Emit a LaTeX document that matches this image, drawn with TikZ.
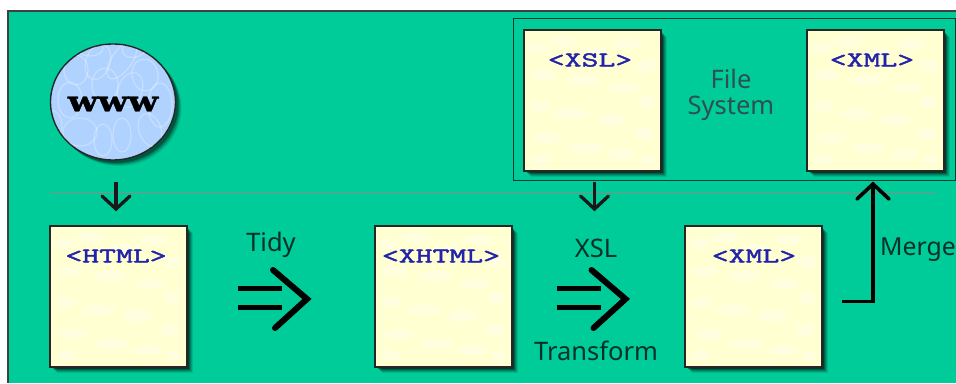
\documentclass[tikz,border=0pt]{standalone}
\usepackage{fontspec}
\setmainfont{Noto Sans}
\newfontfamily\tagfont[FakeStretch=1.56,FakeBold=2.2]{Latin Modern Mono}
\newfontfamily\wwwfont[FakeStretch=1.25,FakeBold=1.5]{DejaVu Serif}
\usetikzlibrary{calc,shapes.geometric}
\definecolor{panelgreen}{HTML}{00CC99}
\definecolor{paper}{HTML}{FFFFD2}
\definecolor{paperlight}{HTML}{FFFFDF}
\definecolor{globe}{HTML}{B0D2FF}
\definecolor{tagblue}{HTML}{2222AA}
\definecolor{rulegrey}{HTML}{868E8A}
\definecolor{fsgrey}{HTML}{2F4F50}
\definecolor{ink}{HTML}{033028}
\tikzset{
  x=1pt,y=-1pt,
  docbox/.style={draw=black!85,line width=1.4pt,fill=paper,minimum width=135.5pt,minimum height=140pt,inner sep=0pt,anchor=north west},
  taglabel/.style={font=\tagfont\fontsize{21}{21}\selectfont,text=tagblue,inner sep=0pt,anchor=center},
  caption/.style={font=\fontsize{25.5}{29}\selectfont,text=ink,inner sep=0pt,align=center},
  fscaption/.style={font=\fontsize{25.5}{26}\selectfont,text=fsgrey,inner sep=0pt,align=center},
  smallarrow/.style={line width=3.3pt,draw=black!90},
  bigstroke/.style={line width=4.6pt,draw=black,line cap=butt},
  chevron/.style={line width=6pt,draw=black,line join=miter,line cap=round},
}
\newcommand{\softshadow}[4]{%
  \foreach \o/\a in {7/.10,6/.14,5/.18,4/.25,3/.35,2/.45}{
    \fill[black,opacity=\a] (#1+\o,#2+\o) rectangle (#3+\o,#4+\o);
  }}
\newcommand{\blotch}[2]{%
  \foreach \dx/\dy/\rx/\ry in {14/18/10/5,40/12/14/5,72/22/12/4,104/14/14/5,122/36/9/6,20/45/12/5,60/50/16/5,100/58/14/5,122/72/8/6,16/76/10/5,48/84/16/5,88/90/14/6,120/104/9/6,24/108/14/5,62/118/16/5,98/124/14/5,16/130/9/5,124/130/7/5}{
    \fill[paperlight] (#1+\dx,#2+\dy) ellipse [x radius=\rx,y radius=\ry];
  }}
\begin{document}
\begin{tikzpicture}
\useasboundingbox (0,0) rectangle (956,383);
\fill[white] (0,0) rectangle (956,383);
\fill[panelgreen] (8,11) rectangle (956,383);
\draw[black!75,line width=1.5pt] (8,383) -- (8,11) -- (956,11);

% file system frame
\node[draw=black!70!panelgreen,line width=1.4pt,minimum width=442pt,minimum height=162pt,inner sep=0pt,anchor=north west] (fs) at (513,18) {};

% rule
\coordinate (ruleL) at (50,192.5);
\coordinate (ruleR) at (936,192.5);
\draw[rulegrey,line width=1pt] (ruleL) -- (ruleR);

% globe
\foreach \o/\a in {6/.10,5/.14,4/.20,3/.30}{
  \fill[black,opacity=\a] (113+\o,102+\o) ellipse [x radius=62.5,y radius=58];
}
\node[draw=black!85,line width=1.4pt,fill=globe,ellipse,minimum width=125pt,minimum height=116pt,inner sep=0pt] (globenode) at (113,102) {};
\begin{scope}
  \clip (113,102) ellipse [x radius=62,y radius=57.5];
  \foreach \x/\y/\rx/\ry/\r in {76/70/12/15/0,98/62/12/18/-20,122/60/10/22/-35,145/75/13/16/10,160/105/12/22/0,70/100/12/18/0,105/85/13/17/0,130/90/12/18/-20,80/132/17/14/0,103/140/9/16/0,122/135/9/17/0,150/130/11/17/20,50/125/12/15/0,135/48/13/9/20,90/48/13/8/0}{
    \draw[white,opacity=.3,line width=1.2pt,rotate around={\r:(\x,\y)}] (\x,\y) ellipse [x radius=\rx,y radius=\ry];
  }
\end{scope}
\node[font=\wwwfont\bfseries\fontsize{28}{28}\selectfont,text=black,inner sep=0pt] (www) at (113,104) {www};

% document boxes
\softshadow{50}{226}{185.5}{366}
\softshadow{375}{226}{510.5}{366}
\softshadow{685}{226}{820.5}{366}
\softshadow{524}{30}{659.5}{170}
\softshadow{807}{30}{942.5}{170}
\node[docbox] (html) at (50,226) {};
\blotch{50}{226}
\node[docbox] (xhtml) at (375,226) {};
\blotch{375}{226}
\node[docbox] (xmlres) at (685,226) {};
\blotch{685}{226}
\node[docbox] (xsl) at (524,30) {};
\blotch{524}{30}
\node[docbox] (xmlfs) at (807,30) {};
\blotch{807}{30}
\foreach \n in {html,xhtml,xmlres,xsl,xmlfs}{
  \draw[black!85,line width=1.4pt] (\n.north west) rectangle (\n.south east);
}

\node[taglabel] (t1) at (116,256) {<HTML>};
\node[taglabel] (t2) at (441,256) {<XHTML>};
\node[taglabel] (t3) at (754,256) {<XML>};
\node[taglabel] (t4) at (590,60) {<XSL>};
\node[taglabel] (t5) at (872,60) {<XML>};

% captions
\node[caption] (tidy) at (271,245) {Tidy};
\node[caption] (xslc) at (596,248) {XSL};
\node[caption] (transform) at (596,351) {Transform};
\node[caption,anchor=west,font=\fontsize{24.8}{29}\selectfont] (merge) at (880,250) {Merge};
\node[fscaption] (fstext) at (731,94.5) {File\\System};

% small arrows
\coordinate (a1s) at (116,182);
\coordinate (a1e) at (116,209);
\coordinate (a2s) at (594.5,182);
\coordinate (a2e) at (594.5,209);
\foreach \s/\e in {a1s/a1e,a2s/a2e}{
  \draw[smallarrow] (\s) -- (\e);
  \draw[smallarrow,line cap=round] ($(\e)+(-14,-13)$) -- (\e) -- ($(\e)+(14,-13)$);
}

% big arrows
\foreach \ox/\name in {0/tidyarrow,318.5/xslarrow}{
  \coordinate (\name a) at (238+\ox,288.5);
  \coordinate (\name b) at (238+\ox,307.5);
  \coordinate (\name t) at (273+\ox,270);
  \coordinate (\name p) at (307+\ox,299);
  \coordinate (\name u) at (275+\ox,328);
  \draw[bigstroke] (\name a) -- ++(44,0);
  \draw[bigstroke] (\name b) -- ++(44,0);
  \draw[chevron] (\name t) -- (\name p) -- (\name u);
}

% merge arrow
\coordinate (m0) at (842,301.5);
\coordinate (m1) at (873,301.5);
\coordinate (m2) at (873,184);
\draw[line width=3.6pt,draw=black,line join=miter] (m0) -- (m1) -- (m2);
\draw[line width=3.6pt,draw=black,line cap=round,line join=miter] ($(m2)+(-16,15)$) -- (m2) -- ($(m2)+(16,15)$);
\end{tikzpicture}
\end{document}
